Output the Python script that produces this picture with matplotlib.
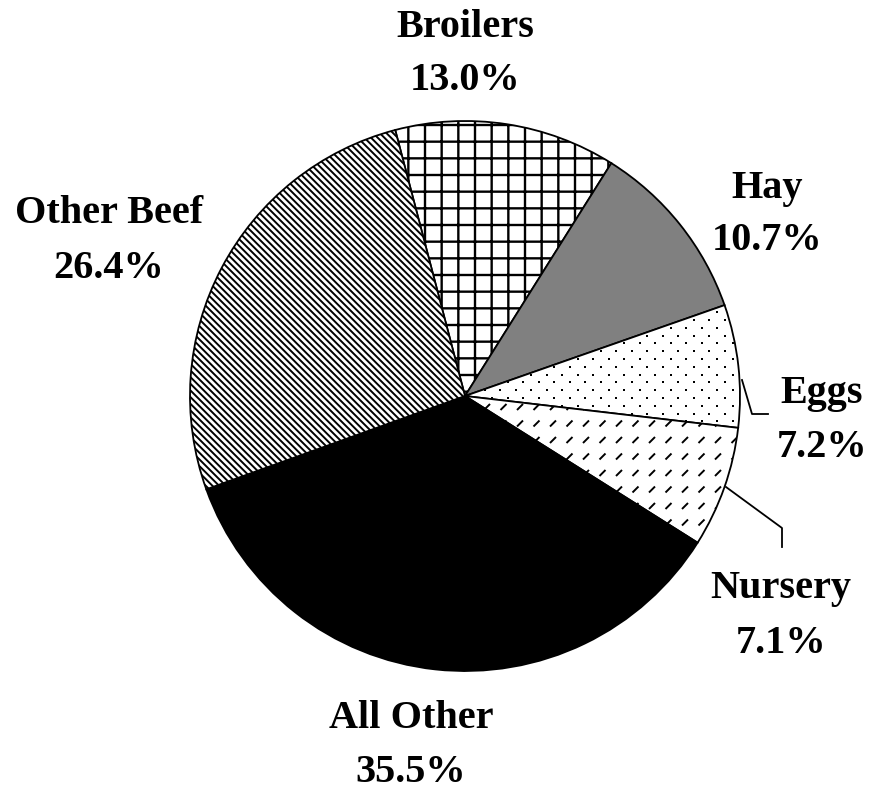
import numpy as np
import matplotlib
matplotlib.use("Agg")
import matplotlib.pyplot as plt
from matplotlib.collections import LineCollection

# ---- data ----
categories = ["Broilers", "Hay", "Eggs", "Nursery", "All Other", "Other Beef"]
shares = [13.0, 10.7, 7.2, 7.1, 35.5, 26.4]
colors = ["white", "#808080", "white", "white", "black", "white"]
hatches = ["+", None, None, None, None, "\\\\\\\\\\"]

W, H = 872, 790
CX, CY, R = 465, 396, 275  # pixel centre and radius


def P(px, py):
    """pixel (from top-left) -> data coordinates"""
    return (px - CX) / R, (CY - py) / R


plt.rcParams["hatch.linewidth"] = 1.3
fig = plt.figure(figsize=(W / 100, H / 100), dpi=100)
ax = fig.add_axes([0, 0, 1, 1])

wedges, _ = ax.pie(shares, colors=colors, startangle=104.7, counterclock=False,
                   radius=1.0, center=(0, 0),
                   wedgeprops=dict(edgecolor="black", linewidth=1.3))
for w, h in zip(wedges, hatches):
    if h:
        w.set_hatch(h)
        w.set_edgecolor("black")
        if hasattr(w, "set_hatch_linewidth"):
            w.set_hatch_linewidth(1.7 if h == "+" else 1.4)

z = wedges[0].get_zorder() + 0.5

# short-dash texture for Nursery
nw = wedges[categories.index("Nursery")]
step = 16.5 / R
dl = 3.0 / R
xs = np.arange(-1.0, 1.0, step)
ys = np.arange(-1.0, 1.0, step)
segs = [[(x - dl, y - dl), (x + dl, y + dl)] for x in xs for y in ys]
lc = LineCollection(segs, colors="black", linewidths=1.4, zorder=z)
ax.add_collection(lc)
lc.set_clip_path(nw)

# fine staggered dot texture for Eggs
ew = wedges[categories.index("Eggs")]
dx, dy = 15.5 / R, 7.8 / R
pts = []
for i, y in enumerate(np.arange(-1.0, 1.0, dy)):
    off = (dx / 2) if i % 2 else 0.0
    for x in np.arange(-1.0, 1.0, dx):
        pts.append((x + off, y))
pts = np.array(pts)
sc = ax.scatter(pts[:, 0], pts[:, 1], s=3.0, marker="s", color="black",
                linewidths=0, zorder=z)
sc.set_clip_path(ew)

ax.set_xlim(-CX / R, (W - CX) / R)
ax.set_ylim(-(H - CY) / R, CY / R)
ax.set_aspect("equal")
ax.axis("off")

# labels: (centre x px, name baseline px, pct baseline px)
label_pos = {
    "Broilers": (465, 37, 90),
    "Hay": (767, 198, 250),
    "Eggs": (822, 403, 457),
    "Nursery": (781, 598, 653),
    "All Other": (411, 728, 782),
    "Other Beef": (109, 223, 278),
}
fp = dict(family="Liberation Serif", weight="bold", fontsize=29, ha="center", va="baseline")
for cat, val in zip(categories, shares):
    x, b1, b2 = label_pos[cat]
    ax.text(*P(x, b1), cat, **fp)
    ax.text(*P(x, b2), f"{val:.1f}%", **fp)

# leader lines
for pts_ in ([(742, 380), (752, 414), (768, 414)],
             [(726, 487), (782, 528), (782, 547)]):
    xy = np.array([P(*p) for p in pts_])
    ax.plot(xy[:, 0], xy[:, 1], color="black", linewidth=1.3)

fig.savefig("out.png", dpi=100)
